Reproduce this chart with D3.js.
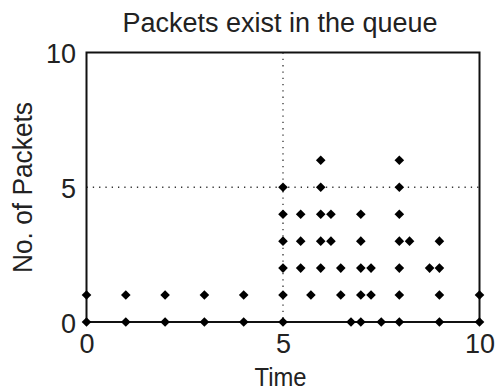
<!DOCTYPE html>
<html>
<head>
<meta charset="utf-8">
<script src="https://cdn.jsdelivr.net/npm/d3@7"></script>
<style>
  html, body { margin: 0; padding: 0; background: #fff; }
  svg { display: block; }
  text { font-family: "Liberation Sans", Arial, sans-serif; fill: #222; }
</style>
</head>
<body>
<svg id="chart" width="495" height="392"></svg>
<script>
// Event times (x) and the queue lengths observed at each time (y)
const eventTimes = [0, 1, 2, 3, 4, 5, 5.45, 5.71, 5.96, 6.22, 6.47, 6.73, 6.98, 7.24, 7.5, 7.96, 8.22, 8.73, 8.98, 10];
const packetsInQueue = [
  [0, 1], [0, 1], [0, 1], [0, 1], [0, 1],
  [0, 1, 2, 3, 4, 5],
  [2, 3, 4],
  [1],
  [2, 3, 4, 5, 6],
  [3, 4],
  [1, 2],
  [0],
  [0, 1, 2, 3, 4],
  [1, 2],
  [0],
  [0, 1, 2, 3, 4, 5, 6],
  [3],
  [2],
  [0, 1, 2, 3],
  [0, 1]
];
const xTicks = [0, 5, 10];
const yTicks = [0, 5, 10];
const gridAt = 5;

const titleText = "Packets exist in the queue";
const xLabel = "Time";
const yLabel = "No. of Packets";

const points = [];
eventTimes.forEach((t, i) => packetsInQueue[i].forEach(n => points.push({ t, n })));

const svg = d3.select("#chart");
const plot = { left: 86.5, right: 479.5, top: 52.5, bottom: 322 };

const x = d3.scaleLinear().domain([0, 10]).range([plot.left, plot.right]);
const y = d3.scaleLinear().domain([0, 10]).range([plot.bottom, plot.top]);

// Dotted grid lines through the middle ticks
svg.append("line")
  .attr("x1", x(gridAt)).attr("x2", x(gridAt))
  .attr("y1", y(10)).attr("y2", y(0))
  .attr("stroke", "#333").attr("stroke-width", 1.3)
  .attr("stroke-dasharray", "1.3,5");
svg.append("line")
  .attr("x1", x(0)).attr("x2", x(10))
  .attr("y1", y(gridAt)).attr("y2", y(gridAt))
  .attr("stroke", "#333").attr("stroke-width", 1.3)
  .attr("stroke-dasharray", "1.3,5");

// Axes (labels only; the frame is drawn as a box)
const xAxis = svg.append("g")
  .attr("transform", `translate(0,${plot.bottom})`)
  .call(d3.axisBottom(x).tickValues(xTicks).tickSize(0).tickPadding(12).tickFormat(d3.format("d")));
const yAxis = svg.append("g")
  .attr("transform", `translate(${plot.left},0)`)
  .call(d3.axisLeft(y).tickValues(yTicks).tickSize(0).tickPadding(10.5).tickFormat(d3.format("d")));
[xAxis, yAxis].forEach(g => {
  g.select(".domain").remove();
  g.selectAll("text").attr("font-size", 27).attr("font-family", "Liberation Sans, Arial, sans-serif").attr("fill", "#222");
});
yAxis.selectAll("text").attr("dy", "0.37em");

// Frame
svg.append("rect")
  .attr("x", x(0)).attr("y", y(10))
  .attr("width", x(10) - x(0)).attr("height", y(0) - y(10))
  .attr("fill", "none").attr("stroke", "#111").attr("stroke-width", 2);

// Diamond markers
const r = 4.8;
const diamond = `M0,${-r}L${r},0L0,${r}L${-r},0Z`;
svg.append("g").selectAll("path")
  .data(points)
  .join("path")
  .attr("d", diamond)
  .attr("transform", d => `translate(${x(d.t)},${y(d.n)})`)
  .attr("fill", "#000");

// Titles
svg.append("text")
  .attr("x", 280).attr("y", 31.7)
  .attr("text-anchor", "middle")
  .attr("font-size", 27)
  .text(titleText);
svg.append("text")
  .attr("x", 280.5).attr("y", 386.3)
  .attr("text-anchor", "middle")
  .attr("font-size", 26)
  .attr("textLength", 52).attr("lengthAdjust", "spacingAndGlyphs")
  .text(xLabel);
svg.append("text")
  .attr("transform", `translate(31.5,187.5) rotate(-90)`)
  .attr("text-anchor", "middle")
  .attr("font-size", 27)
  .attr("textLength", 171).attr("lengthAdjust", "spacingAndGlyphs")
  .text(yLabel);
</script>
</body>
</html>
